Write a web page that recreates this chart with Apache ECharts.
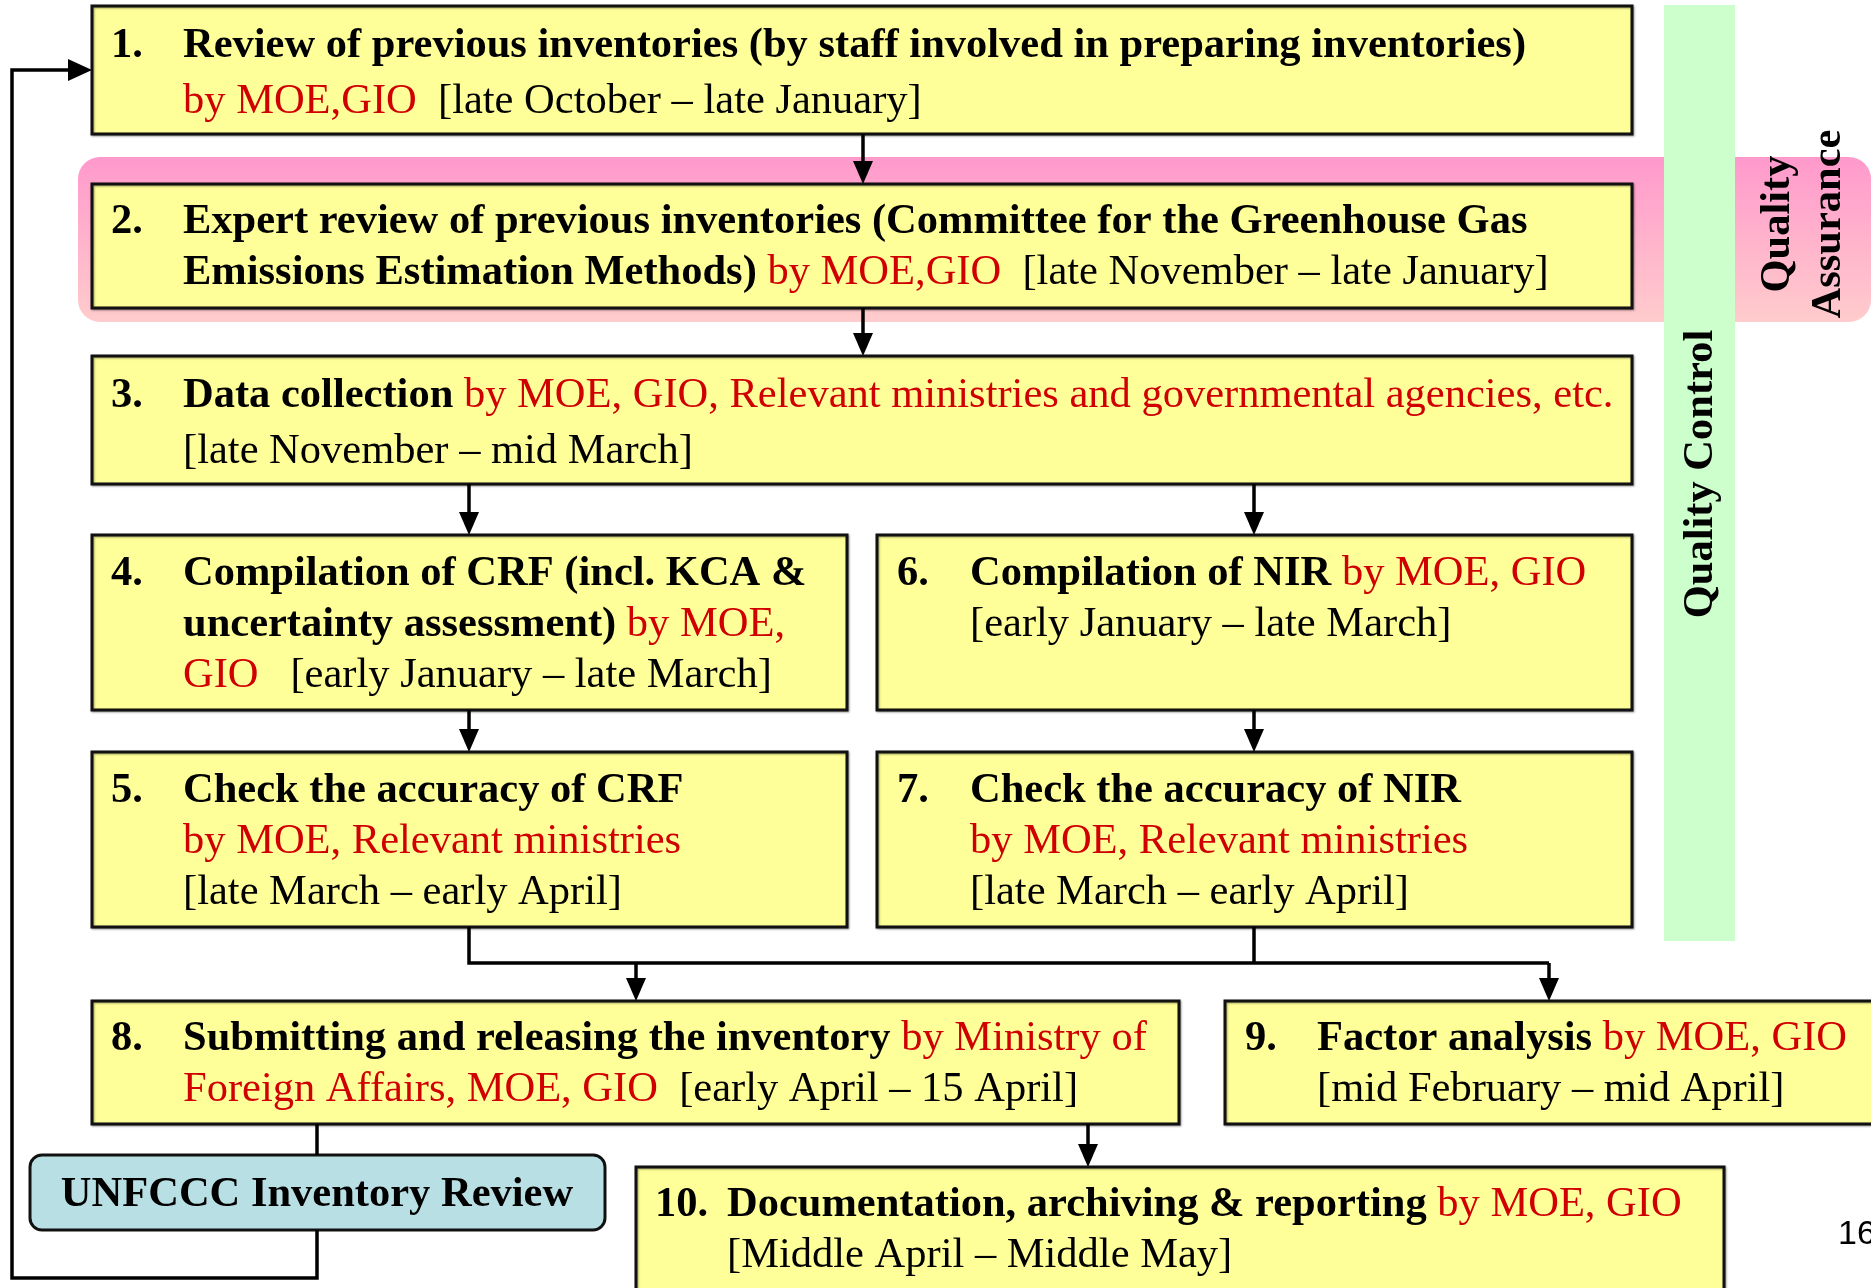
<!DOCTYPE html>
<html>
<head>
<meta charset="utf-8">
<script src="https://cdn.jsdelivr.net/npm/echarts@6/dist/echarts.min.js"></script>
<style>
  html, body { margin: 0; padding: 0; background: #fff; }
  #chart { width: 1871px; height: 1288px; }
</style>
</head>
<body>
<div id="chart"></div>
<script>
// step texts: each line is a list of [style, text] pieces (b = bold, r = red, n = normal)
const stepNumbers = ['1.', '2.', '3.', '4.', '5.', '6.', '7.', '8.', '9.', '10.']
const stepLines = [
  [[['b', 'Review of previous inventories (by staff involved in preparing inventories)']],
   [['r', 'by MOE,GIO'], ['n', '  [late October – late January]']]],
  [[['b', 'Expert review of previous inventories (Committee for the Greenhouse Gas']],
   [['b', 'Emissions Estimation Methods)'], ['r', ' by MOE,GIO'], ['n', '  [late November – late January]']]],
  [[['b', 'Data collection'], ['r', ' by MOE, GIO, Relevant ministries and governmental agencies, etc.']],
   [['n', '[late November – mid March]']]],
  [[['b', 'Compilation of CRF (incl. KCA &']],
   [['b', 'uncertainty assessment)'], ['r', ' by MOE,']],
   [['r', 'GIO'], ['n', '   [early January – late March]']]],
  [[['b', 'Check the accuracy of CRF']],
   [['r', 'by MOE, Relevant ministries']],
   [['n', '[late March – early April]']]],
  [[['b', 'Compilation of NIR'], ['r', ' by MOE, GIO']],
   [['n', '[early January – late March]']]],
  [[['b', 'Check the accuracy of NIR']],
   [['r', 'by MOE, Relevant ministries']],
   [['n', '[late March – early April]']]],
  [[['b', 'Submitting and releasing the inventory'], ['r', ' by Ministry of']],
   [['r', 'Foreign Affairs, MOE, GIO'], ['n', '  [early April – 15 April]']]],
  [[['b', 'Factor analysis'], ['r', ' by MOE, GIO']],
   [['n', '[mid February – mid April]']]],
  [[['b', 'Documentation, archiving & reporting'], ['r', ' by MOE, GIO']],
   [['n', '[Middle April – Middle May]']]]
]
const reviewLabel = 'UNFCCC Inventory Review'
const qaLabel = 'Quality\nAssurance'
const qcLabel = 'Quality Control'
const pageNumber = '16'

// box geometry [x, y, w, h, numberX, textX, firstLineY, lineGap]
const boxes = [
  [92, 6, 1540, 128, 111, 183, 46, 56],
  [92, 184, 1540, 124, 111, 183, 222, 51],
  [92, 356, 1540, 128, 111, 183, 396, 56],
  [92, 535, 755, 175, 111, 183, 574, 51],
  [92, 752, 755, 175, 111, 183, 791, 51],
  [877, 535, 755, 175, 897, 970, 574, 51],
  [877, 752, 755, 175, 897, 970, 791, 51],
  [92, 1001, 1087, 123, 111, 183, 1039, 51],
  [1225, 1001, 660, 123, 1245, 1317, 1039, 51],
  [636, 1167, 1088, 140, 655, 727, 1205, 51]
]

const FONT = '"Liberation Serif", "Times New Roman", serif'
const FS = 42.5
const rich = {
  b: { fontFamily: FONT, fontSize: FS, fontWeight: 'bold', fill: '#000' },
  r: { fontFamily: FONT, fontSize: FS, fill: '#d00000' },
  n: { fontFamily: FONT, fontSize: FS, fill: '#000' }
}
const LW = 3.5

function vArrow(x, y1, y2) {
  return [
    { type: 'line', z: 20, shape: { x1: x, y1: y1, x2: x, y2: y2 - 20 }, style: { stroke: '#000', lineWidth: LW } },
    { type: 'polygon', z: 20, shape: { points: [[x - 10, y2 - 23], [x + 10, y2 - 23], [x, y2]] }, style: { fill: '#000' } }
  ]
}

const els = []
// Quality Assurance band
els.push({
  type: 'rect', z: 1,
  shape: { x: 78, y: 157, width: 1793, height: 165, r: 22 },
  style: {
    fill: new echarts.graphic.LinearGradient(0, 0, 0, 1, [
      { offset: 0, color: '#ff99cc' }, { offset: 1, color: '#ffcccc' }
    ])
  }
})
// Quality Control band
els.push({ type: 'rect', z: 2, shape: { x: 1664, y: 5, width: 71, height: 936 }, style: { fill: '#ccffcc' } })
els.push({
  type: 'text', z: 3, x: 1701, y: 474, rotation: Math.PI / 2,
  style: { text: qcLabel, x: 0, y: 0, align: 'center', verticalAlign: 'middle',
    font: 'bold ' + FS + 'px ' + FONT, fill: '#000' }
})
els.push({
  type: 'text', z: 3, x: 1804, y: 224, rotation: Math.PI / 2,
  style: { text: qaLabel, x: 0, y: 0, align: 'center', verticalAlign: 'middle', lineHeight: 51,
    font: 'bold ' + FS + 'px ' + FONT, fill: '#000' }
})

// step boxes
boxes.forEach(function (b, i) {
  els.push({
    type: 'rect', z: 5,
    shape: { x: b[0], y: b[1], width: b[2], height: b[3] },
    style: { fill: '#ffff99', stroke: '#111', lineWidth: 3, shadowColor: 'rgba(0,0,0,0.35)', shadowBlur: 2, shadowOffsetX: 1, shadowOffsetY: 1 }
  })
  els.push({
    type: 'text', z: 6,
    style: { text: stepNumbers[i], x: b[4], y: b[6], verticalAlign: 'middle',
      font: 'bold ' + FS + 'px ' + FONT, fill: '#000' }
  })
  stepLines[i].forEach(function (line, k) {
    const txt = line.map(function (p) { return '{' + p[0] + '|' + p[1] + '}' }).join('')
    els.push({
      type: 'text', z: 6,
      style: { text: txt, rich: rich, x: b[5], y: b[6] + k * b[7], verticalAlign: 'middle' }
    })
  })
})

// UNFCCC review box
els.push({
  type: 'rect', z: 5,
  shape: { x: 30, y: 1155, width: 575, height: 75, r: 12 },
  style: { fill: '#b8e0e4', stroke: '#111', lineWidth: 3 }
})
els.push({
  type: 'text', z: 6,
  style: { text: reviewLabel, x: 317, y: 1195, align: 'center', verticalAlign: 'middle',
    font: 'bold ' + FS + 'px ' + FONT, fill: '#000' }
})
els.push({
  type: 'text', z: 6,
  style: { text: pageNumber, x: 1838, y: 1235, verticalAlign: 'middle',
    font: '34px "Liberation Sans", Arial, sans-serif', fill: '#000' }
})

// arrows and connectors
;[].concat(
  vArrow(863, 134, 184),
  vArrow(863, 308, 356),
  vArrow(469, 484, 535),
  vArrow(1254, 484, 535),
  vArrow(469, 710, 752),
  vArrow(1254, 710, 752),
  vArrow(636, 963, 1001),
  vArrow(1549, 963, 1001),
  vArrow(1088, 1124, 1167)
).forEach(function (e) { els.push(e) })

els.push({ type: 'polyline', z: 20, shape: { points: [[469, 927], [469, 963], [1549, 963]] }, style: { stroke: '#000', lineWidth: LW, fill: null } })
els.push({ type: 'line', z: 20, shape: { x1: 1254, y1: 927, x2: 1254, y2: 963 }, style: { stroke: '#000', lineWidth: LW } })
els.push({ type: 'line', z: 20, shape: { x1: 317, y1: 1124, x2: 317, y2: 1155 }, style: { stroke: '#000', lineWidth: LW } })
els.push({ type: 'polyline', z: 20, shape: { points: [[317, 1230], [317, 1278], [12, 1278], [12, 70], [70, 70]] }, style: { stroke: '#000', lineWidth: LW, fill: null } })
els.push({ type: 'polygon', z: 20, shape: { points: [[68, 59], [68, 81], [92, 70]] }, style: { fill: '#000' } })

const chart = echarts.init(document.getElementById('chart'))
chart.setOption({
  backgroundColor: '#fff',
  animation: false,
  graphic: { elements: els }
})
</script>
</body>
</html>
